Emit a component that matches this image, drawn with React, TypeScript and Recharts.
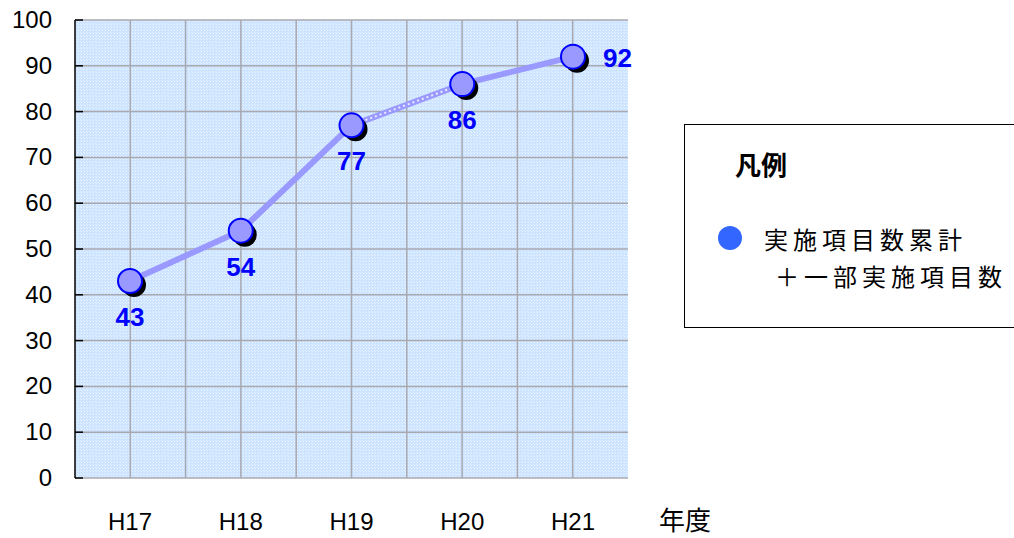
import { LineChart, Line, XAxis, YAxis, CartesianGrid, LabelList } from 'recharts';

const years = ['H17', 'H18', 'H19', 'H20', 'H21'];
const cumulative = [43, 54, 77, 86, 92];
// segment drawn with the light dotted pattern (H19 -> H20)
const patternSegment = [null, null, 77, 86, null];
const yTicks = [0, 10, 20, 30, 40, 50, 60, 70, 80, 90, 100];

const seriesName = '実施項目数累計';
const seriesName2 = '＋一部実施項目数';

const data = years.map((y, i) => ({ year: y, value: cumulative[i], seg: patternSegment[i] }));

const FONT = '"Liberation Sans", "Noto Sans CJK JP", sans-serif';
const CJK = '"Noto Sans CJK JP", sans-serif';

const ShadowDot = (props: any) => {
    const { cx, cy, index } = props;
    if (cx == null || cy == null) return null;
    return (
        <g key={`dot-${index}`}>
            <circle cx={cx + 4} cy={cy + 4} r={12} fill="#000" />
            <circle cx={cx} cy={cy} r={12} fill="#9999ff" stroke="#0000ff" strokeWidth={2} />
        </g>
    );
};

const YTick = (props: any) => {
    const { x, y, payload } = props;
    return (
        <g>
            <line x1={x} x2={x + 8} y1={y} y2={y} stroke="#000" strokeWidth={1.5} />
            <text x={x - 23} y={y} dy={8} textAnchor="end" fontSize={24} fill="#000" fontFamily={FONT}>
                {payload.value}
            </text>
        </g>
    );
};

const ValueLabel = (props: any) => {
    const { x, y, value, index } = props;
    const last = index === cumulative.length - 1;
    return (
        <text
            x={last ? x + 30 : x}
            y={last ? y + 10 : y + 45}
            textAnchor={last ? 'start' : 'middle'}
            fontSize={26}
            fontWeight="bold"
            fill="#0000ff"
            fontFamily={FONT}
        >
            {value}
        </text>
    );
};

const LegendBox = () => (
    <div
        style={{
            position: 'absolute',
            left: 684,
            top: 124,
            width: 340,
            height: 204,
            border: '1.5px solid #000',
            boxSizing: 'border-box',
            fontFamily: CJK,
            background: '#fff',
        }}
    >
        <div style={{ position: 'absolute', left: 50, top: 21, fontSize: 26, fontWeight: 'bold', lineHeight: '36px' }}>凡例</div>
        <div
            style={{
                position: 'absolute', left: 33, top: 101, width: 24, height: 24,
                borderRadius: '50%', background: '#3366ff',
            }}
        />
        <div style={{ position: 'absolute', left: 79, top: 95, fontSize: 24, lineHeight: '37px', letterSpacing: 5, color: '#000', whiteSpace: 'nowrap' }}>
            {seriesName}
            <br />
            <span style={{ marginLeft: 11 }}>{seriesName2}</span>
        </div>
    </div>
);

export default function App() {
    return (
        <div style={{ position: 'absolute', left: 0, top: 0, width: 1014, height: 538, background: '#fff', overflow: 'hidden' }}>
            <LineChart width={1014} height={538} data={data} margin={{ top: 20, right: 386, bottom: 0, left: 0 }}>
                <defs>
                    <pattern id="dither" width="3" height="3" patternUnits="userSpaceOnUse">
                        <rect width="3" height="3" fill="#cce4ff" />
                        <rect x="0" y="0" width="1" height="1" fill="#eef6ff" />
                        <rect x="2" y="2" width="1" height="1" fill="#e4f0ff" />
                    </pattern>
                </defs>
                <CartesianGrid
                    fill="url(#dither)"
                    stroke="#a8a8b0"
                    strokeWidth={1.5}
                    verticalCoordinatesGenerator={({ offset }: any) =>
                        Array.from({ length: 9 }, (_, k) => offset.left + (offset.width * (k + 1)) / 10)
                    }
                />
                <XAxis
                    dataKey="year"
                    padding={{ left: 55, right: 55 }}
                    axisLine={false}
                    tickLine={false}
                    height={60}
                    tick={{ fontSize: 24, fill: '#000', fontFamily: FONT, dy: 27 }}
                />
                <YAxis
                    domain={[0, 100]}
                    ticks={yTicks}
                    width={75}
                    tickSize={0}
                    tickMargin={0}
                    axisLine={{ stroke: '#000', strokeWidth: 1.5 }}
                    tick={<YTick />}
                    interval={0}
                />
                <Line
                    dataKey="value"
                    name={seriesName}
                    stroke="#9999ff"
                    strokeWidth={6}
                    dot={false}
                    activeDot={false}
                    isAnimationActive={false}
                />
                <Line
                    dataKey="seg"
                    stroke="#ffffff"
                    strokeWidth={2}
                    strokeDasharray="2 3"
                    strokeOpacity={0.8}
                    dot={false}
                    activeDot={false}
                    legendType="none"
                    isAnimationActive={false}
                />
                <Line
                    dataKey="value"
                    stroke="none"
                    dot={<ShadowDot />}
                    activeDot={false}
                    legendType="none"
                    isAnimationActive={false}
                >
                    <LabelList dataKey="value" content={<ValueLabel />} />
                </Line>
                <text x={659} y={530} fontSize={26} fontFamily={CJK} fill="#000">年度</text>
            </LineChart>
            <LegendBox />
        </div>
    );
}
